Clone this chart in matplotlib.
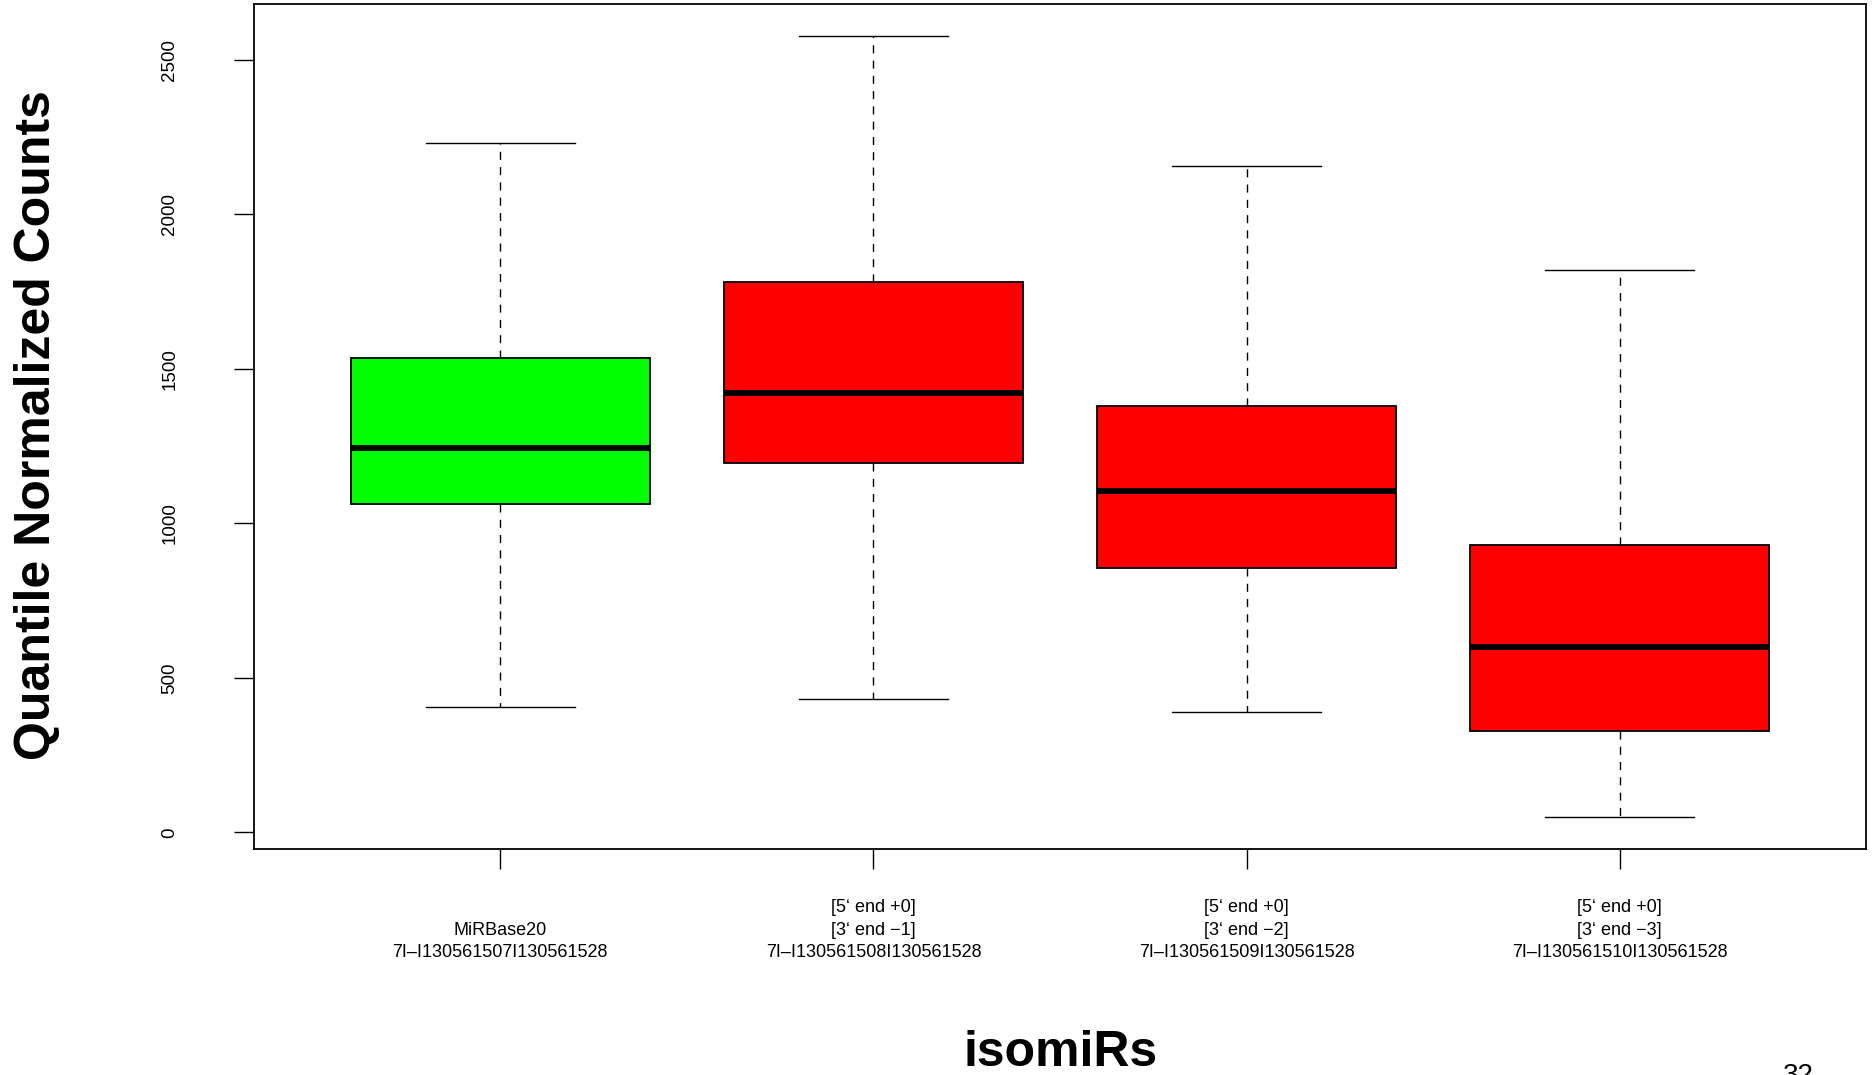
import matplotlib
matplotlib.use('Agg')
import matplotlib.pyplot as plt
import matplotlib.transforms as mtransforms

plt.rcParams['font.family'] = ['Liberation Sans', 'DejaVu Sans']

# box statistics
labels = ['MiRBase20\n7I\u2013I130561507I130561528',
          '[5\u2018 end +0]\n[3\u2018 end \u22121]\n7I\u2013I130561508I130561528',
          '[5\u2018 end +0]\n[3\u2018 end \u22122]\n7I\u2013I130561509I130561528',
          '[5\u2018 end +0]\n[3\u2018 end \u22123]\n7I\u2013I130561510I130561528']
whisLow = [405, 430, 390, 50]
q1 = [1063, 1194, 854, 328]
median = [1244, 1422, 1105, 599]
q3 = [1534, 1781, 1379, 931]
whisHigh = [2229, 2577, 2156, 1820]
boxColors = ['#00ff00', '#ff0000', '#ff0000', '#ff0000']
yTicks = [0, 500, 1000, 1500, 2000, 2500]

fig = plt.figure(figsize=(18.72, 10.75), dpi=100)
ax = fig.add_axes([0.1357, 0.2102, 0.9968 - 0.1357, 0.9967 - 0.2102])

stats = []
for i in range(len(labels)):
    stats.append({'whislo': whisLow[i], 'q1': q1[i], 'med': median[i],
                  'q3': q3[i], 'whishi': whisHigh[i], 'fliers': []})

positions = list(range(1, len(labels) + 1))
bp = ax.bxp(stats, positions=positions, widths=0.8, patch_artist=True,
            showfliers=False,
            boxprops=dict(edgecolor='black', linewidth=1.3),
            medianprops=dict(color='black', linewidth=4.2, solid_capstyle='butt'),
            whiskerprops=dict(color='black', linewidth=1.0, linestyle=(0, (5.8, 5.2))),
            capprops=dict(color='black', linewidth=1.0),
            capwidths=0.4)
for patch, c in zip(bp['boxes'], boxColors):
    patch.set_facecolor(c)
# draw boxes above whiskers like R does
for patch in bp['boxes']:
    patch.set_zorder(3)
for line in bp['medians']:
    line.set_zorder(4)

ax.set_xlim(0.34, 4.66)
ax.set_ylim(-54, 2681)

ax.set_yticks(yTicks)
ax.set_yticklabels([str(v) for v in yTicks], rotation=90, va='center', fontsize=13.5)
ax.tick_params(axis='y', length=14.4, width=1.0, pad=40)
ax.set_xticks(positions)
ax.set_xticklabels([''] * len(positions))
ax.tick_params(axis='x', length=14.4, width=1.0)

for s in ax.spines.values():
    s.set_linewidth(1.3)

# multi-line group labels, bottom aligned like the R output
trans = mtransforms.blended_transform_factory(ax.transData, fig.transFigure)
for pos, lab in zip(positions, labels):
    ax.text(pos, 1 - 961 / 1075, lab, transform=trans, ha='center', va='bottom',
            fontsize=13, linespacing=1.42)

fig.text(1061 / 1872, 1 - 1053 / 1075, 'isomiRs', ha='center', va='center',
         fontsize=36, fontweight='bold')
fig.text(37 / 1872, 1 - 425 / 1075, 'Quantile Normalized Counts', ha='center',
         va='center', rotation=90, fontsize=36, fontweight='bold')
fig.text(1798 / 1872, 1 - 1063 / 1075, '32', ha='center', va='top', fontsize=20)

fig.savefig('out.png', dpi=100)
